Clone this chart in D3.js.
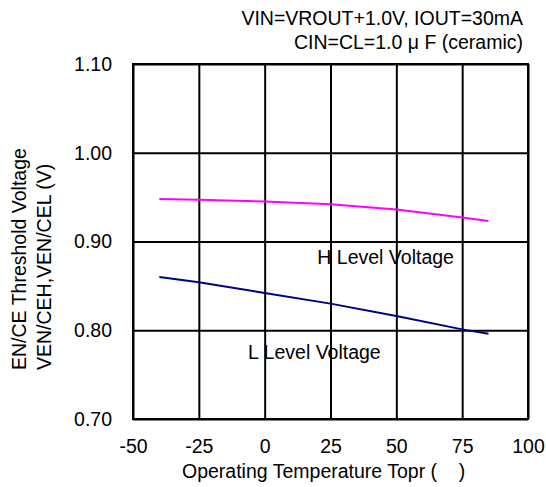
<!DOCTYPE html>
<html>
<head>
<meta charset="utf-8">
<script src="https://cdn.jsdelivr.net/npm/d3@7"></script>
<style>
    body { margin: 0; background: #fff; }
    svg text { font-family: Arial, "Liberation Sans", sans-serif; font-size: 19.5px; fill: #000; }
</style>
</head>
<body>
<div id="chart"></div>
<script>
// Data
const temps = [-40, -25, 0, 25, 50, 75, 85];
const hLevel = [0.948, 0.947, 0.945, 0.942, 0.936, 0.927, 0.923];
const lLevel = [0.860, 0.854, 0.842, 0.830, 0.816, 0.801, 0.796];
const xTicks = [-50, -25, 0, 25, 50, 75, 100];
const yTicks = [0.70, 0.80, 0.90, 1.00, 1.10];
const seriesNames = ['H Level Voltage', 'L Level Voltage'];
const seriesColors = ['#ff00ff', '#000080'];
const labelAt = [[20, 0.8746], [-6.3, 0.7676]]; // in data units
const condLines = ['VIN=VROUT+1.0V, IOUT=30mA', 'CIN=CL=1.0 \u03bc F (ceramic)'];

const W = 546, H = 487;
const margin = {top: 64, right: 18, bottom: 68, left: 133};
const width = W - margin.left - margin.right,
      height = H - margin.top - margin.bottom;

const svg = d3.select('#chart').append('svg')
    .attr('width', W)
    .attr('height', H);

const g = svg.append('g')
    .attr('transform', 'translate(' + margin.left + ',' + margin.top + ')');

const x = d3.scaleLinear().domain([-50, 100]).range([0, width]);
const y = d3.scaleLinear().domain([0.70, 1.10]).range([height, 0]);

// gridlines
g.append('g')
    .attr('class', 'grid grid--x')
    .attr('transform', 'translate(0,' + height + ')')
    .call(d3.axisBottom(x).tickValues(xTicks).tickSize(-height).tickFormat(''))
    .call(s => s.select('.domain').remove())
    .selectAll('line').attr('stroke', '#000').attr('stroke-width', 2);

g.append('g')
    .attr('class', 'grid grid--y')
    .call(d3.axisLeft(y).tickValues(yTicks).tickSize(-width).tickFormat(''))
    .call(s => s.select('.domain').remove())
    .selectAll('line').attr('stroke', '#000').attr('stroke-width', 2);

// frame
g.append('rect')
    .attr('width', width).attr('height', height)
    .attr('fill', 'none').attr('stroke', '#000').attr('stroke-width', 2);

// tick labels
const xAxis = g.append('g')
    .attr('transform', 'translate(0,' + height + ')')
    .call(d3.axisBottom(x).tickValues(xTicks).tickSize(0).tickPadding(20).tickFormat(d => String(d)));
xAxis.select('.domain').remove();
xAxis.selectAll('text').attr('font-size', null).attr('font-family', null);

const yAxis = g.append('g')
    .call(d3.axisLeft(y).tickValues(yTicks).tickSize(0).tickPadding(21).tickFormat(d3.format('.2f')));
yAxis.select('.domain').remove();
yAxis.selectAll('text').attr('font-size', null).attr('font-family', null);

// lines
const line = d3.line()
    .x((d, i) => x(temps[i]))
    .y(d => y(d));

[hLevel, lLevel].forEach(function (vals, i) {
    g.append('path')
        .datum(vals)
        .attr('fill', 'none')
        .attr('stroke', seriesColors[i])
        .attr('stroke-width', 2)
        .attr('d', line);

    g.append('text')
        .attr('x', x(labelAt[i][0]))
        .attr('y', y(labelAt[i][1]))
        .text(seriesNames[i]);
});

// conditions, top right
svg.selectAll('.cond')
    .data(condLines)
    .enter().append('text')
    .attr('class', 'cond')
    .attr('text-anchor', 'end')
    .attr('x', 523)
    .attr('y', (d, i) => 25 + i * 24)
    .text(d => d);

// axis titles
svg.append('text')
    .attr('x', 182)
    .attr('y', 478)
    .style('white-space', 'pre')
    .text('Operating Temperature Topr (    )');

const yTitle = svg.append('text')
    .attr('transform', 'rotate(-90)')
    .attr('text-anchor', 'start');
yTitle.append('tspan').attr('x', -370).attr('y', 26).text('EN/CE Threshold Voltage');
yTitle.append('tspan').attr('x', -370).attr('y', 51).text('VEN/CEH,VEN/CEL (V)');
</script>
</body>
</html>
